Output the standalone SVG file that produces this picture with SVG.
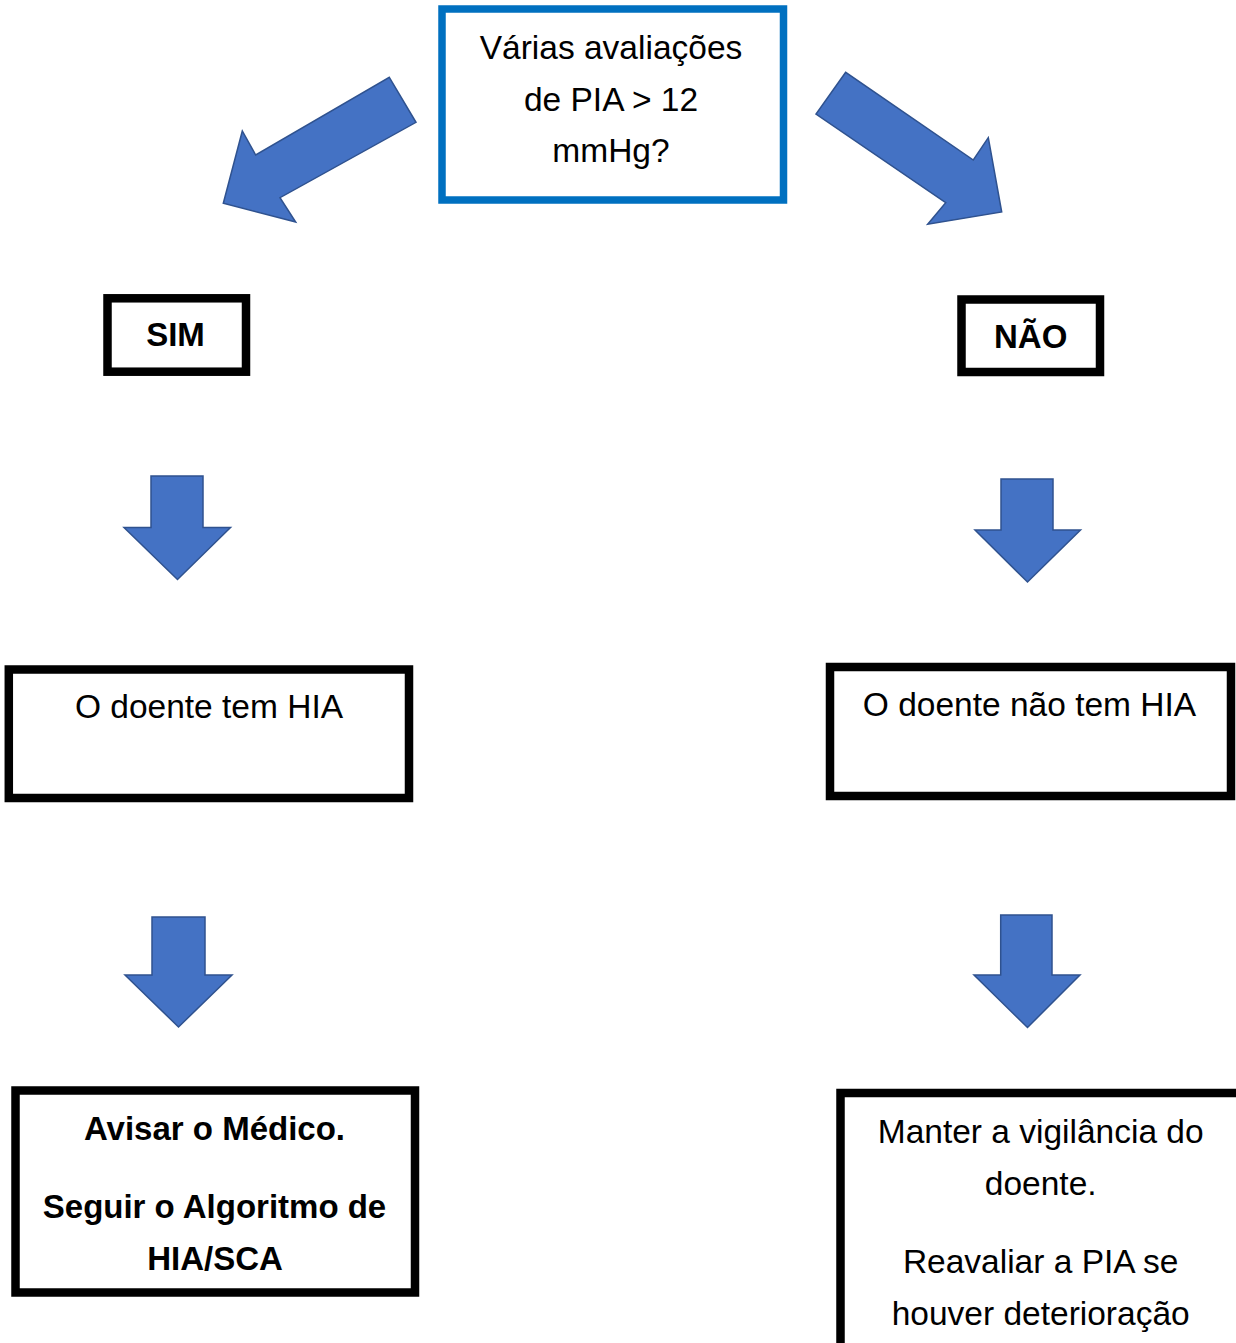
<svg xmlns="http://www.w3.org/2000/svg" width="1236" height="1343" viewBox="0 0 1236 1343">
<style>
.box{fill:#FFFFFF;stroke:#000000;stroke-width:8.5}
.qbox{fill:#FFFFFF;stroke:#0070C0;stroke-width:7.5}
.arr{fill:#4472C4;stroke:#2F528F;stroke-width:1.5;stroke-linejoin:miter}
.t{font-family:"Liberation Sans",Arial,sans-serif;font-size:33.5px;fill:#000000;text-anchor:middle}
.b{font-family:"Liberation Sans",Arial,sans-serif;font-size:33px;font-weight:bold;fill:#000000;text-anchor:middle}
</style>
<rect width="1236" height="1343" fill="#FFFFFF"/>
<g id="connectors">
<polygon class="arr" points="389.3,77.3 416,122.3 280,197.7 295.7,222 223.3,203.3 242.3,131 255.7,155"/>
<polygon class="arr" points="845.7,72.3 816,114 945.7,202.7 927.7,224.3 1001.7,212 988.3,137.7 973.3,160"/>
<polygon class="arr" points="151,476 203,476 203,527.5 230.5,527.5 177.5,579.5 124,527.5 151,527.5"/>
<polygon class="arr" points="1001,479 1053,479 1053,530 1080.5,530 1027.5,582 975,530 1001,530"/>
<polygon class="arr" points="152,917 205,917 205,975 232,975 178.5,1027 125,975 152,975"/>
<polygon class="arr" points="1000.7,915 1052,915 1052,975 1080,975 1027.5,1027.5 974,975 1000.7,975"/>
</g>
<g id="question">
<rect class="qbox" x="442" y="9" width="341.5" height="191"/>
<text class="t" x="611" y="59.3">Várias avaliações</text>
<text class="t" x="611" y="110.5">de PIA &gt; 12</text>
<text class="t" x="611" y="161.7">mmHg?</text>
</g>
<g id="sim">
<rect class="box" x="107.5" y="298.3" width="138.5" height="73.4"/>
<text class="b" x="175.5" y="346">SIM</text>
</g>
<g id="nao">
<rect class="box" x="961.5" y="299.5" width="138.5" height="72.5"/>
<text class="b" x="1030.7" y="347.7">NÃO</text>
</g>
<g id="tem-hia">
<rect class="box" x="8.8" y="669.5" width="400.2" height="128.5"/>
<text class="t" x="209" y="718.3">O doente tem HIA</text>
</g>
<g id="nao-tem-hia">
<rect class="box" x="830" y="667" width="401" height="129"/>
<text class="t" x="1029.5" y="715.7">O doente não tem HIA</text>
</g>
<g id="avisar">
<rect class="box" x="15.5" y="1090.5" width="399.5" height="202"/>
<text class="b" x="214.5" y="1140">Avisar o Médico.</text>
<text class="b" x="214.5" y="1218">Seguir o Algoritmo de</text>
<text class="b" x="215" y="1270">HIA/SCA</text>
</g>
<g id="manter">
<rect class="box" x="840.5" y="1093" width="420" height="300"/>
<text class="t" x="1040.7" y="1143.3">Manter a vigilância do</text>
<text class="t" x="1040.7" y="1195">doente.</text>
<text class="t" x="1040.7" y="1273.3">Reavaliar a PIA se</text>
<text class="t" x="1040.7" y="1325">houver deterioração</text>
</g>
</svg>
